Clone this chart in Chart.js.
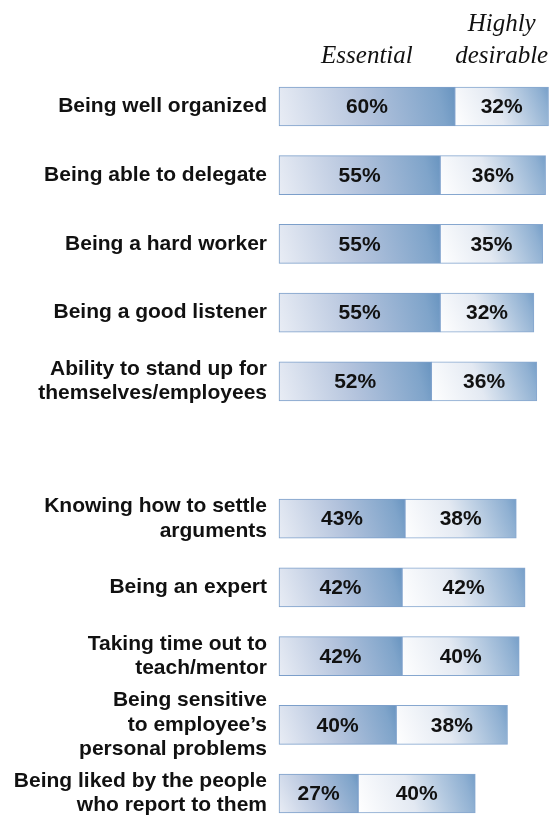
<!DOCTYPE html>
<html>
<head>
<meta charset="utf-8">
<script src="https://cdn.jsdelivr.net/npm/chart.js@4"></script>
<style>
  html, body { margin: 0; padding: 0; background: #ffffff; }
  #wrap { width: 550px; height: 823px; position: relative; }
</style>
</head>
<body>
<div id="wrap"><canvas id="chart"></canvas></div>
<script>
// Qualities rated for a manager; '' is a spacer row between the two groups
const categories = [
  'Being well organized',
  'Being able to delegate',
  'Being a hard worker',
  'Being a good listener',
  ['Ability to stand up for', 'themselves/employees'],
  '',
  ['Knowing how to settle', 'arguments'],
  'Being an expert',
  ['Taking time out to', 'teach/mentor'],
  ['Being sensitive', 'to employee\u2019s', 'personal problems'],
  ['Being liked by the people', 'who report to them']
];
const essential = [60, 55, 55, 55, 52, null, 43, 42, 42, 40, 27];
const highlyDesirable = [32, 36, 35, 32, 36, null, 38, 42, 40, 38, 40];
const seriesNames = ['Essential', ['Highly', 'desirable']];

const SANS = "'Liberation Sans', Arial, Helvetica, sans-serif";
const SERIF = "'Liberation Serif', 'Times New Roman', serif";

// left-to-right sheen for each bar segment
function segmentFill(stops) {
  return function (ctx) {
    const chart = ctx.chart;
    const xs = chart.scales.x, ys = chart.scales.y;
    const fallback = stops[stops.length - 1][1];
    if (ctx.type !== 'data' || !xs || !ys) return fallback;
    const i = ctx.dataIndex;
    const start = ctx.datasetIndex === 0 ? 0 : (essential[i] || 0);
    const len = ctx.datasetIndex === 0 ? essential[i] : highlyDesirable[i];
    if (len == null) return fallback;
    const x0 = xs.getPixelForValue(start);
    const x1 = xs.getPixelForValue(start + len);
    const yc = ys.getPixelForValue(i);
    if (!isFinite(x0) || !isFinite(x1) || !isFinite(yc)) return fallback;
    const g = chart.ctx.createLinearGradient(x0, yc + 20, x1, yc - 20);
    stops.forEach(s => g.addColorStop(s[0], s[1]));
    return g;
  };
}

const essentialStops = [[0, '#e9edf5'], [0.5, '#b2c2dc'], [0.9, '#7fa4ca'], [1, '#6894c0']];
const highlyStops = [[0, '#ffffff'], [0.45, '#e3e9f2'], [0.9, '#8fb0d2'], [1, '#759ec8']];

// percentage printed in the middle of every segment
const valueLabels = {
  id: 'valueLabels',
  afterDatasetsDraw(chart) {
    const c = chart.ctx;
    c.save();
    c.font = 'bold 21px ' + SANS;
    c.fillStyle = '#111111';
    c.textAlign = 'center';
    c.textBaseline = 'middle';
    chart.data.datasets.forEach((ds, di) => {
      const meta = chart.getDatasetMeta(di);
      meta.data.forEach((el, i) => {
        const v = ds.data[i];
        if (v == null) return;
        c.fillText(v + '%', (el.x + el.base) / 2, el.y + 1);
      });
    });
    c.restore();
  }
};

// italic column headings centred over the first row's segments
const columnHeads = {
  id: 'columnHeads',
  afterDraw(chart) {
    const c = chart.ctx;
    c.save();
    c.font = 'italic 25px ' + SERIF;
    c.fillStyle = '#111111';
    c.textAlign = 'center';
    c.textBaseline = 'alphabetic';
    seriesNames.forEach((name, di) => {
      const el = chart.getDatasetMeta(di).data[0];
      const cx = (el.x + el.base) / 2;
      const lines = Array.isArray(name) ? name : [name];
      lines.forEach((ln, k) => {
        c.fillText(ln, cx, 63 - (lines.length - 1 - k) * 32);
      });
    });
    c.restore();
  }
};

new Chart(document.getElementById('chart'), {
  type: 'bar',
  data: {
    labels: categories,
    datasets: [
      {
        label: 'Essential',
        data: essential,
        backgroundColor: segmentFill(essentialStops),
        borderColor: '#7c9fca',
        borderWidth: 1,
        borderSkipped: false,
        barThickness: 39,
        clip: false
      },
      {
        label: 'Highly desirable',
        data: highlyDesirable,
        backgroundColor: segmentFill(highlyStops),
        borderColor: '#86a7cf',
        borderWidth: 1,
        borderSkipped: false,
        barThickness: 39,
        clip: false
      }
    ]
  },
  options: {
    indexAxis: 'y',
    responsive: true,
    maintainAspectRatio: false,
    animation: false,
    layout: { padding: { top: 106.5, bottom: 29.5, left: 0, right: 0 } },
    plugins: {
      legend: { display: false },
      tooltip: { enabled: false }
    },
    scales: {
      x: {
        stacked: true,
        display: false,
        min: 0,
        max: 92.5
      },
      y: {
        stacked: true,
        offset: false,
        border: { display: false },
        grid: { display: false, drawTicks: false },
        ticks: {
          autoSkip: false,
          padding: 12,
          color: '#111111',
          font: { family: SANS, size: 21, weight: 'bold', lineHeight: 1.15 }
        },
        afterFit(scale) { scale.width = 279; }
      }
    }
  },
  plugins: [valueLabels, columnHeads]
});
</script>
</body>
</html>
